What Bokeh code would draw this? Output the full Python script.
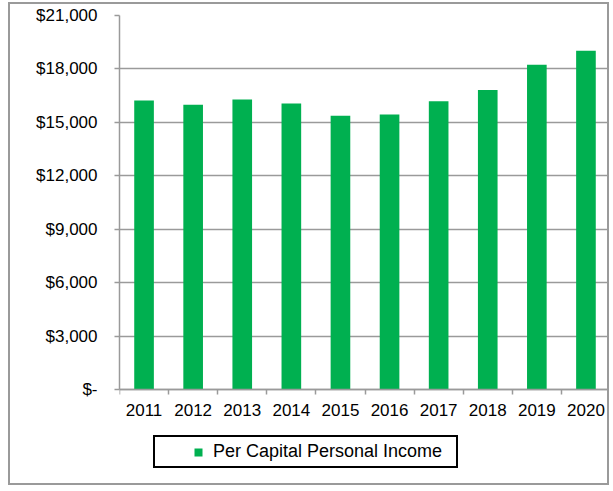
from bokeh.plotting import figure
from bokeh.models import FixedTicker, Legend, LegendItem, ColumnDataSource, Range1d
from bokeh.embed import file_html
from bokeh.resources import INLINE

years = ["2011", "2012", "2013", "2014", "2015", "2016", "2017", "2018", "2019", "2020"]
income = [16230, 15990, 16290, 16060, 15370, 15440, 16190, 16810, 18230, 19020]
y_ticks = [0, 3000, 6000, 9000, 12000, 15000, 18000, 21000]
y_labels = ["$-", "$3,000", "$6,000", "$9,000", "$12,000", "$15,000", "$18,000", "$21,000"]
series_name = "Per Capital Personal Income"

FONT = "Liberation Sans"
GRAY = "#9a9a9a"
GREEN = "#00B050"

x = list(range(len(years)))
src = ColumnDataSource(dict(x=x, income=income, year=years))

# frame extends below zero so that the legend box sits inside it (not clipped)
Y_MAX = 21000
Y_MIN = -5390

p = figure(width=601, height=483, output_backend="svg", toolbar_location=None,
           x_range=Range1d(-0.5, len(years) - 0.5), y_range=Range1d(Y_MIN, Y_MAX),
           min_border_left=109, min_border_right=1, min_border_top=11, min_border_bottom=2)
p.outline_line_color = None
p.background_fill_color = "white"
p.border_fill_color = "white"
p.margin = (2, 0, 0, 8)
p.styles = {"border": "2px solid #9a9a9a"}

r = p.vbar(x="x", top="income", bottom=0, width=0.4, source=src, fill_color=GREEN, line_color=None)

# legend swatch proxy: same data on an off-screen x range (never visible in the plot);
# its thick dashed stroke shows as a small square in the legend
p.extra_x_ranges = {"proxy": Range1d(1000, 1001)}
swatch = p.line(x="x", y="income", source=src, x_range_name="proxy",
                line_color=GREEN, line_width=8, line_cap="butt", line_dash="0 35 8 100")

# y axis
p.yaxis.ticker = FixedTicker(ticks=y_ticks)
p.yaxis.bounds = (0, Y_MAX)
p.yaxis.major_label_overrides = {t: l for t, l in zip(y_ticks, y_labels)}
p.yaxis.axis_line_color = GRAY
p.yaxis.axis_line_width = 1.5
p.yaxis.major_tick_line_color = GRAY
p.yaxis.major_tick_line_width = 1.5
p.yaxis.major_tick_out = 5
p.yaxis.major_tick_in = 0
p.yaxis.minor_tick_line_color = None
p.yaxis.major_label_standoff = 17
p.yaxis.major_label_text_font = FONT
p.yaxis.major_label_text_font_size = "17px"
p.yaxis.major_label_text_color = "black"

# x axis, pinned at y = 0
p.xaxis.fixed_location = 0
p.xaxis.ticker = FixedTicker(ticks=x, minor_ticks=[i - 0.5 for i in range(len(years) + 1)])
p.xaxis.major_label_overrides = {i: y for i, y in zip(x, years)}
p.xaxis.axis_line_color = GRAY
p.xaxis.axis_line_width = 1.5
p.xaxis.major_tick_line_color = None
p.xaxis.major_tick_out = 0
p.xaxis.major_tick_in = 0
p.xaxis.minor_tick_line_color = GRAY
p.xaxis.minor_tick_line_width = 1.5
p.xaxis.minor_tick_out = 5
p.xaxis.minor_tick_in = 0
p.xaxis.major_label_standoff = 9
p.xaxis.major_label_text_font = FONT
p.xaxis.major_label_text_font_size = "17px"
p.xaxis.major_label_text_color = "black"

p.xgrid.grid_line_color = None
p.ygrid.grid_line_color = GRAY
p.ygrid.grid_line_width = 1.5

legend = Legend(items=[LegendItem(label=series_name, renderers=[swatch])], location=(34, 17))
legend.border_line_color = "black"
legend.border_line_alpha = 1
legend.border_line_width = 2
legend.background_fill_color = "white"
legend.background_fill_alpha = 1
legend.label_text_font = FONT
legend.label_text_font_size = "18px"
legend.label_text_color = "black"
legend.padding = 4
legend.margin = 0
legend.glyph_height = 20
legend.glyph_width = 54
legend.label_height = 20
legend.label_width = 239
legend.label_standoff = 0
p.add_layout(legend, "center")

open("out.html", "w").write(file_html(p, INLINE))
